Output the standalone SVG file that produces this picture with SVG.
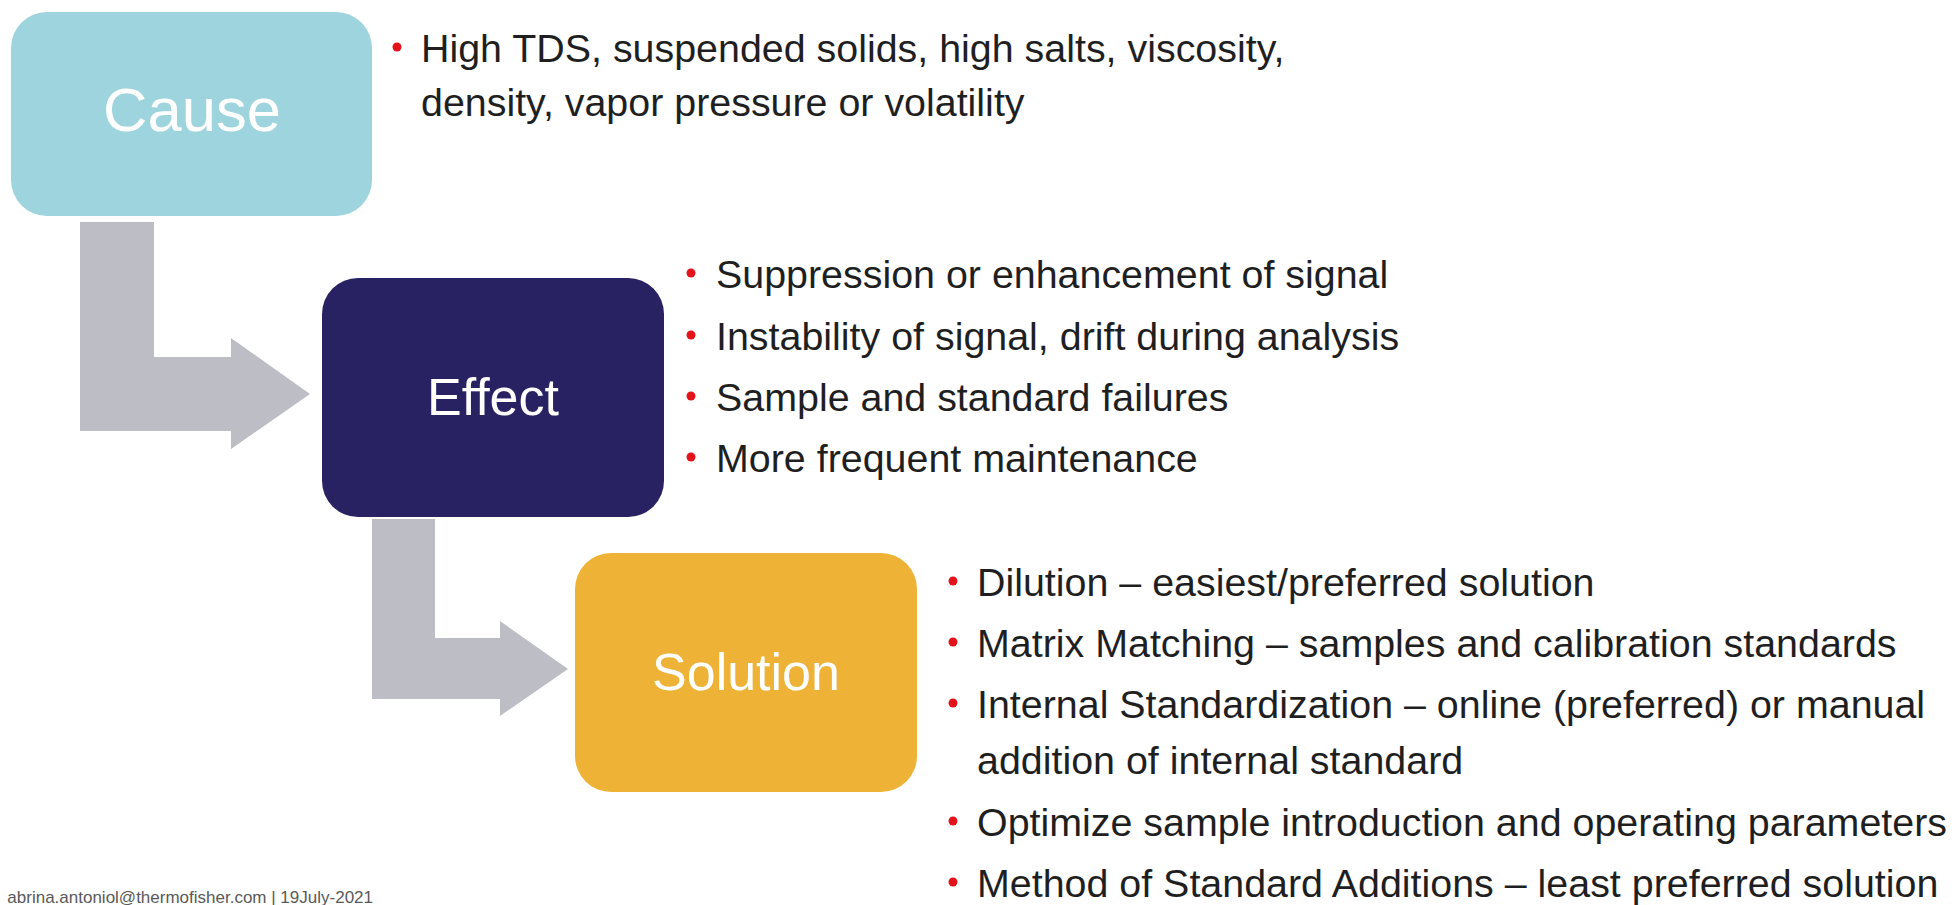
<svg xmlns="http://www.w3.org/2000/svg" width="1958" height="905" viewBox="0 0 1958 905">
<style>
.lbl{font-family:"Liberation Sans",Arial,sans-serif;fill:#ffffff;text-anchor:middle}
.item{font-family:"Liberation Sans",Arial,sans-serif;font-size:39.4px;fill:#1f1f1f}
.dot{fill:#e3131b}
.arrow{fill:#bcbdc5}
.foot{font-family:"Liberation Sans",Arial,sans-serif;font-size:17px;fill:#595959}
</style>
<rect width="1958" height="905" fill="#ffffff"/>
<g id="connectors">
<path class="arrow" d="M80,222 H154 V357 H231 V338 L310,394 L231,449 V431 H80 Z"/>
<path class="arrow" d="M372,519 H435 V638 H500 V621 L568,669 L500,716 V699 H372 Z"/>
</g>
<g id="cause">
<rect x="11" y="12" width="361" height="204" rx="36" fill="#9dd4de"/>
<text class="lbl" x="192" y="131" font-size="61.5">Cause</text>
</g>
<g id="cause-items">
<circle class="dot" cx="397" cy="47" r="4.5"/>
<text class="item" x="421" y="62">High TDS, suspended solids, high salts, viscosity,</text>
<text class="item" x="421" y="116">density, vapor pressure or volatility</text>
</g>
<g id="effect">
<rect x="322" y="278" width="342" height="239" rx="36" fill="#282262"/>
<text class="lbl" x="493" y="415" font-size="52">Effect</text>
</g>
<g id="effect-items">
<circle class="dot" cx="691" cy="273" r="4.5"/><text class="item" x="716" y="288">Suppression or enhancement of signal</text>
<circle class="dot" cx="691" cy="335" r="4.5"/><text class="item" x="716" y="350">Instability of signal, drift during analysis</text>
<circle class="dot" cx="691" cy="396" r="4.5"/><text class="item" x="716" y="411">Sample and standard failures</text>
<circle class="dot" cx="691" cy="457" r="4.5"/><text class="item" x="716" y="472">More frequent maintenance</text>
</g>
<g id="solution">
<rect x="575" y="553" width="342" height="239" rx="36" fill="#eeb336"/>
<text class="lbl" x="746" y="690" font-size="52">Solution</text>
</g>
<g id="solution-items">
<circle class="dot" cx="953" cy="581" r="4.5"/><text class="item" x="977" y="596">Dilution – easiest/preferred solution</text>
<circle class="dot" cx="953" cy="642" r="4.5"/><text class="item" x="977" y="657">Matrix Matching – samples and calibration standards</text>
<circle class="dot" cx="953" cy="703" r="4.5"/><text class="item" x="977" y="718">Internal Standardization – online (preferred) or manual</text>
<text class="item" x="977" y="774">addition of internal standard</text>
<circle class="dot" cx="953" cy="821" r="4.5"/><text class="item" x="977" y="836">Optimize sample introduction and operating parameters</text>
<circle class="dot" cx="953" cy="882" r="4.5"/><text class="item" x="977" y="897">Method of Standard Additions – least preferred solution</text>
</g>
<g id="footer">
<text class="foot" x="373" y="903" text-anchor="end">abrina.antoniol@thermofisher.com | 19July-2021</text>
</g>
</svg>
